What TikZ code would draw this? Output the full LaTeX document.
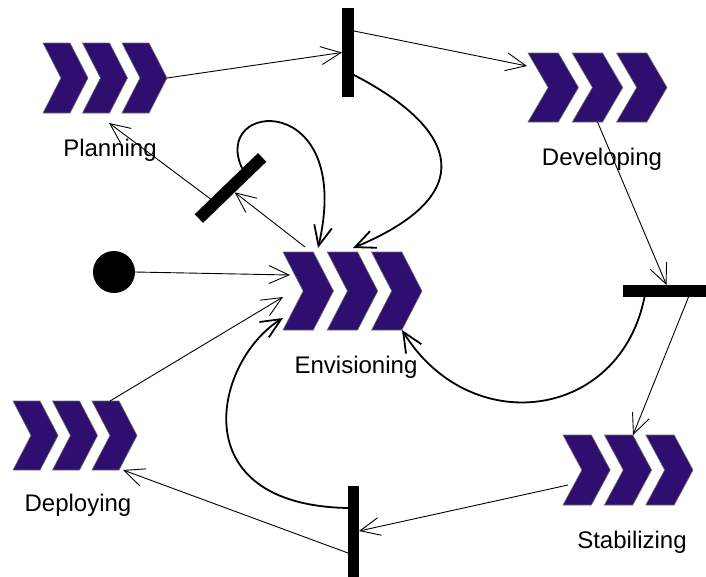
\documentclass[tikz,border=0pt]{standalone}
\usepackage{fontspec}
\setmainfont{Liberation Sans}
\usetikzlibrary{arrows.meta,calc}
\definecolor{chevfill}{RGB}{46,14,110}
\definecolor{chevline}{RGB}{110,110,110}
% group of three chevrons: name, centre x, centre y, width, height
\newcommand\chevgroup[5]{%
  \node[chevbox, minimum width=#4pt, minimum height=#5pt] (#1) at (#2,#3) {};
  \foreach \k in {0,1,2}{
    \filldraw[chevstyle] ($(#1.north west)+(\k*0.3185*#4,0)$) -- ++(0.218*#4,0)
      -- ++(0.145*#4,#5/2) -- ++(-0.145*#4,#5/2) -- ++(-0.218*#4,0)
      -- ++(0.145*#4,-#5/2) -- cycle;
  }}
\begin{document}
\begin{tikzpicture}[x=1pt,y=-1pt,
  chevbox/.style={rectangle, inner sep=0pt, outer sep=0pt},
  chevstyle/.style={fill=chevfill, draw=chevline, line width=0.6pt},
  bar/.style={rectangle, fill=black, inner sep=0pt, outer sep=0pt},
  lbl/.style={font=\fontsize{24}{28}\selectfont, anchor=base, inner sep=0pt},
  conn/.style={line width=0.9pt, -{Straight Barb[length=20pt,width=18pt]}},
  thickconn/.style={line width=1.8pt, -{Straight Barb[length=20pt,width=18pt]}}
]
\useasboundingbox (0,0) rectangle (706,576);

% activity groups
\chevgroup{plan}{105}{78}{124}{70}
\chevgroup{dev}{597.5}{87.5}{139}{69}
\chevgroup{env}{352.5}{291}{139}{78}
\chevgroup{dep}{75}{435.5}{124}{69}
\chevgroup{stab}{628}{470}{130}{70}

% labels
\node[lbl] (lplan) at (110,156) {Planning};
\node[lbl] (ldev) at (602,165) {Developing};
\node[lbl] (lenv) at (356,373) {Envisioning};
\node[lbl] (ldep) at (78,511) {Deploying};
\node[lbl] (lstab) at (632,548) {Stabilizing};

% synchronisation bars
\node[bar, minimum width=12pt, minimum height=89pt] (tbar) at (348,52.5) {};
\node[bar, rotate=44, minimum width=88pt, minimum height=12pt] (dbar) at (230.5,188) {};
\node[bar, minimum width=84pt, minimum height=12pt] (rbar) at (664.5,291) {};
\node[bar, minimum width=11pt, minimum height=92pt] (bbar) at (353.5,532) {};

% initial state
\node[circle, fill=black, minimum size=42pt, inner sep=0pt] (start) at (114,272) {};

% connectors
\draw[conn] (plan.east) -- (tbar.west);
\draw[conn] ([yshift=21.5pt]tbar.east) -- ([xshift=-1pt,yshift=-13pt]dev.north west);
\draw[thickconn] ([yshift=-22.5pt]tbar.east) .. controls (460,130) and (480,195) .. ([xshift=70pt,yshift=4pt]env.north west);
\draw[conn] ([xshift=22pt,yshift=5pt]env.north west) -- (dbar.south);
\draw[conn] ($(dbar.north)!0.5!(dbar.north west)$) -- ([xshift=66pt,yshift=-10pt]plan.south west);
\draw[thickconn] ($(dbar.north)!0.5!(dbar.north east)$) .. controls (210,100) and (355,90) .. ([xshift=35pt,yshift=4pt]env.north west);
\draw[conn] (start.east) -- ([xshift=7pt,yshift=-23pt]env.north west);
\draw[conn] ([xshift=-27pt]dep.north east) -- ([yshift=-45pt]env.north west);
\draw[thickconn] ([yshift=24pt]bbar.west) .. controls (180,505) and (215,360) .. ([yshift=-66pt]env.north west);
\draw[conn] ([yshift=-21pt]bbar.west) -- ([xshift=-14pt]dep.south east);
\draw[conn] ([xshift=5pt,yshift=-50pt]stab.north west) -- ([yshift=1pt]bbar.east);
\draw[conn] (dev.south) -- ([xshift=2pt]rbar.north);
\draw[conn] ([xshift=24pt]rbar.south) -- ([xshift=70pt]stab.north west);
\draw[thickconn] ([xshift=-20pt]rbar.south) .. controls (620,420) and (470,440) .. ([xshift=-20pt]env.south east);
\end{tikzpicture}
\end{document}
